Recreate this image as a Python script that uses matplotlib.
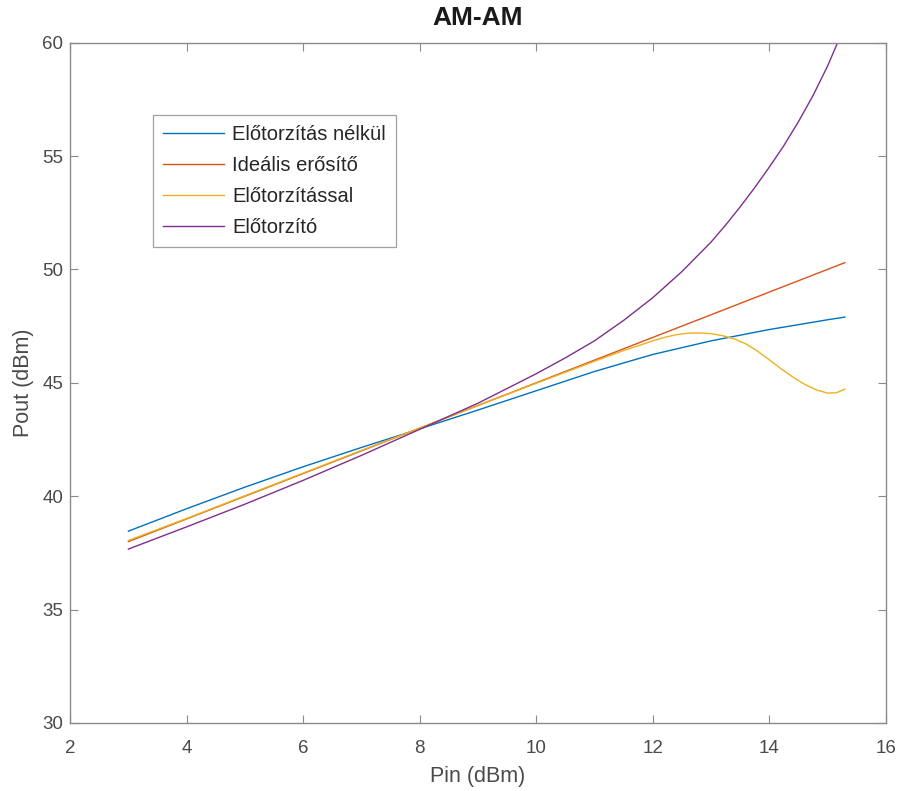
import numpy as np
import matplotlib.pyplot as plt

plt.rcParams['font.family'] = ['Liberation Sans', 'DejaVu Sans']

# Előtorzítás nélkül (PA alone)
pin_pa = [3, 4, 5, 6, 7, 8, 9, 10, 11, 12, 13, 14, 15, 15.3]
pout_pa = [38.46, 39.45, 40.4, 41.3, 42.15, 42.97, 43.8, 44.65, 45.5,
           46.25, 46.85, 47.35, 47.78, 47.9]

# Ideális erősítő
pin_ideal = [3, 15.3]
pout_ideal = [38.0, 50.3]

# Előtorzítással (predistorter + PA)
pin_dpd = [3, 4, 5, 6, 7, 8, 9, 10, 11, 11.5, 12, 12.2, 12.4, 12.6, 12.8,
           13.0, 13.2, 13.4, 13.6, 13.8, 14.0, 14.2, 14.4, 14.6, 14.8,
           15.0, 15.15, 15.3]
pout_dpd = [38.05, 39.02, 40.02, 41.02, 42.02, 43.0, 44.0, 44.98, 45.95,
            46.42, 46.85, 47.0, 47.12, 47.19, 47.2, 47.17, 47.08, 46.94,
            46.72, 46.4, 46.02, 45.63, 45.27, 44.95, 44.7, 44.55, 44.56,
            44.72]

# Előtorzító
pin_pd = [3, 4, 5, 6, 7, 8, 9, 10, 10.5, 11, 11.5, 12, 12.5, 13, 13.25,
          13.5, 13.75, 14, 14.25, 14.5, 14.75, 15, 15.15, 15.3]
pout_pd = [37.67, 38.65, 39.65, 40.7, 41.8, 42.95, 44.1, 45.4, 46.1, 46.85,
           47.75, 48.75, 49.9, 51.2, 51.95, 52.75, 53.6, 54.5, 55.45, 56.5,
           57.65, 58.95, 59.85, 60.8]

fig = plt.figure(figsize=(9, 7.91), dpi=100)
ax = fig.add_axes([0.078, 0.086, 0.906, 0.86])

lw = 1.0
ax.plot(pin_pa, pout_pa, color='#0072BD', lw=lw, label='Előtorzítás nélkül')
ax.plot(pin_ideal, pout_ideal, color='#D95319', lw=lw, label='Ideális erősítő')
ax.plot(pin_dpd, pout_dpd, color='#EDB120', lw=lw, label='Előtorzítással')
ax.plot(pin_pd, pout_pd, color='#7E2F8E', lw=lw, label='Előtorzító')

ax.set_xlim(2, 16)
ax.set_ylim(30, 60)
ax.set_xticks(range(2, 17, 2))
ax.set_yticks(range(30, 61, 5))

axis_col = '#4a4a4a'
for s in ax.spines.values():
    s.set_color('#8a8a8a')
    s.set_linewidth(1.0)
ax.tick_params(direction='in', top=True, right=True, length=6, width=0.8,
               color='#8a8a8a', labelcolor=axis_col, labelsize=13.5, pad=5)
ax.tick_params(axis='x', pad=12)

ax.set_xlabel('Pin (dBm)', fontsize=15.5, color=axis_col, labelpad=7)
ax.set_ylabel('Pout (dBm)', fontsize=15.5, color=axis_col, labelpad=6)
ax.set_title('AM-AM', fontsize=19, fontweight='bold', color='#1a1a1a', pad=13)

leg = ax.legend(loc='upper left', bbox_to_anchor=(0.102, 0.894), fontsize=14.5,
                frameon=True, fancybox=False, handlelength=3.0,
                handletextpad=0.4, borderpad=0.5, labelspacing=0.6,
                borderaxespad=0)
leg.get_frame().set_edgecolor('#8a8a8a')
leg.get_frame().set_linewidth(0.9)
for t in leg.get_texts():
    t.set_color('#262626')

fig.savefig('out.png', dpi=100)
